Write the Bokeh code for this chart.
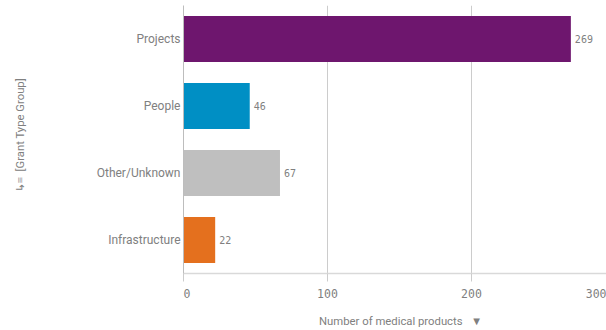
from bokeh.core.properties import value
from bokeh.embed import file_html
from bokeh.models import ColumnDataSource, FactorRange, Range1d
from bokeh.plotting import figure
from bokeh.resources import INLINE

categories = ["Infrastructure", "Other/Unknown", "People", "Projects"]
counts = [22, 67, 46, 269]
colors = ["#e4701e", "#bfbfbf", "#008fc4", "#6e166e"]
grid_ticks = [0, 100, 200]
x_title = "Number of medical products"
y_title = "[Grant Type Group]"

GREY = "#808080"
SANS = "Roboto"
MONO = "DejaVu Sans Mono"
X_END = 293.75
NBSP = "\u00a0"

source = ColumnDataSource(dict(
    cat=categories, n=counts, color=colors, label=[str(c) for c in counts],
))

p = figure(
    width=606, height=330, output_backend="svg", toolbar_location=None,
    y_range=FactorRange(factors=categories, range_padding=0),
    x_range=Range1d(0, X_END),
    min_border_left=183, min_border_right=0, min_border_top=5, min_border_bottom=55,
)
p.outline_line_color = None
p.background_fill_color = "white"
p.border_fill_color = "white"

p.hbar(y="cat", right="n", left=0, height=0.69, color="color", line_color=None, source=source)
p.text(x="n", y="cat", text="label", x_offset=4, text_baseline="middle",
       text_font=value(MONO), text_font_size="10px", text_color=GREY, source=source)

p.ygrid.visible = False
p.xgrid.ticker = grid_ticks
p.xgrid.grid_line_color = "#cccccc"
p.xgrid.grid_line_width = 1

ax = p.xaxis[0]
# The axis carries on past the window, so its 300 label is anchored on the frame's right edge.
ax.ticker = grid_ticks + [X_END]
ax.major_label_overrides = {0: NBSP + "0", X_END: "300"}
ax.axis_line_color = "#d9d9d9"
ax.axis_line_width = 1.5
ax.major_tick_line_color = "#cccccc"
ax.major_tick_out = 8
ax.major_tick_in = 0
ax.minor_tick_line_color = None
ax.major_label_text_font = MONO
ax.major_label_text_font_size = "11.5px"
ax.major_label_text_color = GREY
ax.major_label_standoff = 5
ax.axis_label = NBSP * 4 + x_title + NBSP * 3 + "▼"
ax.axis_label_text_font = SANS
ax.axis_label_text_font_style = "normal"
ax.axis_label_text_font_size = "11.3px"
ax.axis_label_text_color = GREY
ax.axis_label_text_line_height = 0.9
ax.axis_label_standoff = 11

ay = p.yaxis[0]
ay.axis_line_color = "#bdbdbd"
ay.major_tick_line_color = None
ay.major_tick_out = 0
ay.major_tick_in = 0
ay.minor_tick_line_color = None
ay.major_label_text_font = SANS
ay.major_label_text_font_size = "12px"
ay.major_label_text_color = GREY
ay.major_label_standoff = 3
ay.axis_label = NBSP * 3 + "↳≡" + NBSP * 2 + y_title
ay.axis_label_text_font = SANS
ay.axis_label_text_font_style = "normal"
ay.axis_label_text_font_size = "11.3px"
ay.axis_label_text_color = GREY
ay.axis_label_standoff = 67

open("out.html", "w").write(file_html(p, INLINE))
